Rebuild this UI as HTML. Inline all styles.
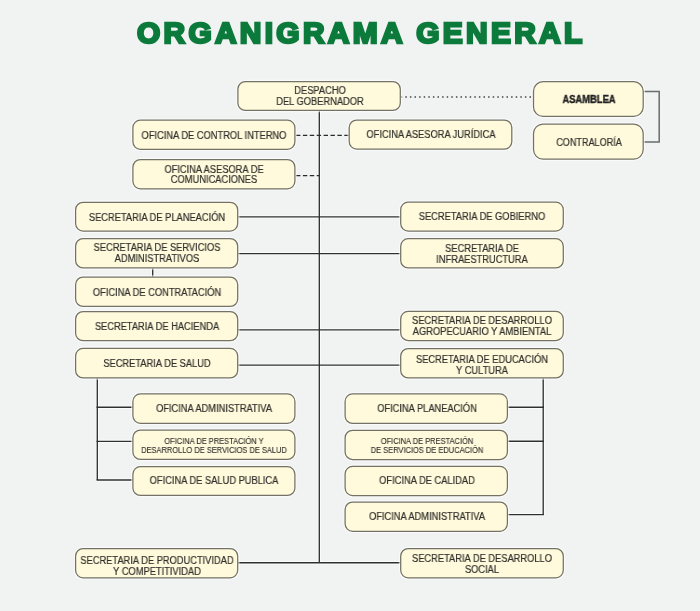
<!DOCTYPE html>
<html><head><meta charset="utf-8"><style>
html,body{margin:0;padding:0}
body{width:700px;height:611px;background:#f1f2f2;position:relative;overflow:hidden;font-family:"Liberation Sans",sans-serif}
.t{position:absolute;left:137.3px;top:18.4px;color:#0b7a3b;font-weight:700;font-size:29.9px;line-height:30px;letter-spacing:3.3px;-webkit-text-stroke:2.5px #0b7a3b;transform:scaleX(1.0);transform-origin:0 0;white-space:nowrap;will-change:transform}
svg{position:absolute;left:0;top:0}
.tx{position:absolute;width:300px;text-align:center;line-height:20px;white-space:nowrap;color:#2f2e2a;-webkit-text-stroke:0.2px #2f2e2a;transform-origin:50% 0;will-change:transform}
.tx.n{font-size:10.0px;transform:scaleX(0.93);font-weight:400}.tx.s{font-size:8.4px;transform:scaleX(0.893);font-weight:400}.tx.k{font-size:10.0px;transform:scaleX(0.94);font-weight:700}.tx.c{font-size:10.0px;transform:scaleX(0.907);font-weight:400}
.tx.k{color:#222;-webkit-text-stroke:0.4px #222}
.tx.s{-webkit-text-stroke:0.12px #2f2e2a}
</style></head><body>
<div class="t">ORGANIGRAMA GENERAL</div>
<svg width="700" height="611"><g stroke="#fff" stroke-opacity="0.7" stroke-width="3.4" fill="none"><line x1="319.3" y1="110.4" x2="319.3" y2="563.0"/><line x1="237.7" y1="216.9" x2="400.7" y2="216.9"/><line x1="237.7" y1="253.6" x2="400.7" y2="253.6"/><line x1="237.7" y1="329.9" x2="400.7" y2="329.9"/><line x1="237.7" y1="365.1" x2="400.7" y2="365.1"/><line x1="237.7" y1="562.7" x2="400.7" y2="562.7"/><line x1="152.7" y1="267.9" x2="152.7" y2="277.1"/><line x1="97.3" y1="377.9" x2="97.3" y2="480.0"/><line x1="96.55" y1="407.2" x2="132.9" y2="407.2"/><line x1="96.55" y1="441.3" x2="132.9" y2="441.3"/><line x1="96.55" y1="480.0" x2="132.9" y2="480.0"/><line x1="543.2" y1="377.9" x2="543.2" y2="514.6"/><line x1="507.4" y1="407.2" x2="543.95" y2="407.2"/><line x1="507.4" y1="441.2" x2="543.95" y2="441.2"/><line x1="507.4" y1="514.6" x2="543.95" y2="514.6"/></g><g stroke="#2e3030" stroke-width="1.35" fill="none"><line x1="319.3" y1="110.4" x2="319.3" y2="563.0"/><line x1="237.7" y1="216.9" x2="400.7" y2="216.9"/><line x1="237.7" y1="253.6" x2="400.7" y2="253.6"/><line x1="237.7" y1="329.9" x2="400.7" y2="329.9"/><line x1="237.7" y1="365.1" x2="400.7" y2="365.1"/><line x1="237.7" y1="562.7" x2="400.7" y2="562.7"/><line x1="152.7" y1="267.9" x2="152.7" y2="277.1"/><line x1="97.3" y1="377.9" x2="97.3" y2="480.0"/><line x1="96.55" y1="407.2" x2="132.9" y2="407.2"/><line x1="96.55" y1="441.3" x2="132.9" y2="441.3"/><line x1="96.55" y1="480.0" x2="132.9" y2="480.0"/><line x1="543.2" y1="377.9" x2="543.2" y2="514.6"/><line x1="507.4" y1="407.2" x2="543.95" y2="407.2"/><line x1="507.4" y1="441.2" x2="543.95" y2="441.2"/><line x1="507.4" y1="514.6" x2="543.95" y2="514.6"/></g><path d="M294.9 135.3H349.2M294.9 175.6H319.3" stroke="#2a2a2a" stroke-width="1.25" stroke-dasharray="4.4 2.5" stroke-dashoffset="-1.1" fill="none"/><path d="M400.7 96.9H533" stroke="#444" stroke-width="1.5" stroke-dasharray="1.5 3.1" fill="none"/><path d="M643.2 91.6H659.2V141.9H643.2" stroke="#6a6d6d" stroke-width="1.5" fill="none"/><g fill="none" stroke="#fff" stroke-opacity="0.6" stroke-width="3.6"><rect x="237.90" y="81.50" width="162.40" height="28.90" rx="7.5" ry="7.5"/><rect x="132.90" y="120.20" width="162.00" height="29.10" rx="7.5" ry="7.5"/><rect x="349.20" y="120.00" width="162.60" height="29.10" rx="7.5" ry="7.5"/><rect x="132.90" y="159.50" width="162.00" height="29.30" rx="7.5" ry="7.5"/><rect x="533.50" y="81.70" width="109.70" height="34.70" rx="9.5" ry="9.5"/><rect x="533.50" y="124.10" width="109.70" height="35.00" rx="9.5" ry="9.5"/><rect x="75.60" y="202.30" width="162.10" height="28.80" rx="7.5" ry="7.5"/><rect x="400.70" y="202.20" width="162.60" height="28.90" rx="7.5" ry="7.5"/><rect x="75.60" y="238.60" width="162.10" height="29.30" rx="7.5" ry="7.5"/><rect x="400.70" y="238.70" width="162.60" height="29.20" rx="7.5" ry="7.5"/><rect x="75.60" y="277.10" width="162.10" height="29.30" rx="7.5" ry="7.5"/><rect x="75.60" y="311.50" width="162.10" height="29.20" rx="7.5" ry="7.5"/><rect x="400.70" y="311.40" width="162.60" height="29.10" rx="7.5" ry="7.5"/><rect x="75.60" y="348.40" width="162.10" height="29.50" rx="7.5" ry="7.5"/><rect x="400.70" y="348.60" width="162.60" height="29.30" rx="7.5" ry="7.5"/><rect x="132.90" y="393.90" width="162.00" height="29.40" rx="7.5" ry="7.5"/><rect x="132.90" y="430.10" width="162.00" height="29.30" rx="7.5" ry="7.5"/><rect x="132.90" y="466.70" width="162.00" height="28.70" rx="7.5" ry="7.5"/><rect x="345.10" y="393.90" width="162.30" height="29.50" rx="7.5" ry="7.5"/><rect x="345.10" y="430.30" width="162.30" height="29.20" rx="7.5" ry="7.5"/><rect x="345.10" y="466.40" width="162.30" height="29.20" rx="7.5" ry="7.5"/><rect x="345.10" y="502.10" width="162.30" height="29.20" rx="7.5" ry="7.5"/><rect x="75.60" y="548.60" width="162.10" height="29.20" rx="7.5" ry="7.5"/><rect x="400.70" y="548.60" width="162.60" height="29.20" rx="7.5" ry="7.5"/></g><g fill="#fffadc" stroke="#737265" stroke-width="1.25"><rect x="237.90" y="81.50" width="162.40" height="28.90" rx="7.5" ry="7.5"/><rect x="132.90" y="120.20" width="162.00" height="29.10" rx="7.5" ry="7.5"/><rect x="349.20" y="120.00" width="162.60" height="29.10" rx="7.5" ry="7.5"/><rect x="132.90" y="159.50" width="162.00" height="29.30" rx="7.5" ry="7.5"/><rect x="533.50" y="81.70" width="109.70" height="34.70" rx="9.5" ry="9.5"/><rect x="533.50" y="124.10" width="109.70" height="35.00" rx="9.5" ry="9.5"/><rect x="75.60" y="202.30" width="162.10" height="28.80" rx="7.5" ry="7.5"/><rect x="400.70" y="202.20" width="162.60" height="28.90" rx="7.5" ry="7.5"/><rect x="75.60" y="238.60" width="162.10" height="29.30" rx="7.5" ry="7.5"/><rect x="400.70" y="238.70" width="162.60" height="29.20" rx="7.5" ry="7.5"/><rect x="75.60" y="277.10" width="162.10" height="29.30" rx="7.5" ry="7.5"/><rect x="75.60" y="311.50" width="162.10" height="29.20" rx="7.5" ry="7.5"/><rect x="400.70" y="311.40" width="162.60" height="29.10" rx="7.5" ry="7.5"/><rect x="75.60" y="348.40" width="162.10" height="29.50" rx="7.5" ry="7.5"/><rect x="400.70" y="348.60" width="162.60" height="29.30" rx="7.5" ry="7.5"/><rect x="132.90" y="393.90" width="162.00" height="29.40" rx="7.5" ry="7.5"/><rect x="132.90" y="430.10" width="162.00" height="29.30" rx="7.5" ry="7.5"/><rect x="132.90" y="466.70" width="162.00" height="28.70" rx="7.5" ry="7.5"/><rect x="345.10" y="393.90" width="162.30" height="29.50" rx="7.5" ry="7.5"/><rect x="345.10" y="430.30" width="162.30" height="29.20" rx="7.5" ry="7.5"/><rect x="345.10" y="466.40" width="162.30" height="29.20" rx="7.5" ry="7.5"/><rect x="345.10" y="502.10" width="162.30" height="29.20" rx="7.5" ry="7.5"/><rect x="75.60" y="548.60" width="162.10" height="29.20" rx="7.5" ry="7.5"/><rect x="400.70" y="548.60" width="162.60" height="29.20" rx="7.5" ry="7.5"/></g></svg>
<div class="tx n" style="left:169.50px;top:81.00px">DESPACHO</div><div class="tx n" style="left:169.50px;top:92.00px">DEL GOBERNADOR</div><div class="tx n" style="left:64.30px;top:126.00px">OFICINA DE CONTROL INTERNO</div><div class="tx n" style="left:280.90px;top:125.00px">OFICINA ASESORA JURÍDICA</div><div class="tx n" style="left:64.30px;top:160.00px">OFICINA ASESORA DE</div><div class="tx n" style="left:64.30px;top:170.00px">COMUNICACIONES</div><div class="tx k" style="left:438.75px;top:90.00px">ASAMBLEA</div><div class="tx c" style="left:438.75px;top:133.00px">CONTRALORÍA</div><div class="tx n" style="left:7.05px;top:208.00px">SECRETARIA DE PLANEACIÓN</div><div class="tx n" style="left:332.40px;top:207.00px">SECRETARIA DE GOBIERNO</div><div class="tx n" style="left:7.05px;top:238.00px">SECRETARIA DE SERVICIOS</div><div class="tx n" style="left:7.05px;top:249.00px">ADMINISTRATIVOS</div><div class="tx n" style="left:332.40px;top:239.00px">SECRETARIA DE</div><div class="tx n" style="left:332.40px;top:250.00px">INFRAESTRUCTURA</div><div class="tx n" style="left:7.05px;top:283.00px">OFICINA DE CONTRATACIÓN</div><div class="tx n" style="left:7.05px;top:317.00px">SECRETARIA DE HACIENDA</div><div class="tx n" style="left:332.40px;top:311.00px">SECRETARIA DE DESARROLLO</div><div class="tx n" style="left:332.40px;top:322.00px">AGROPECUARIO Y AMBIENTAL</div><div class="tx n" style="left:7.05px;top:354.00px">SECRETARIA DE SALUD</div><div class="tx n" style="left:332.40px;top:350.00px">SECRETARIA DE EDUCACIÓN</div><div class="tx n" style="left:332.40px;top:361.00px">Y CULTURA</div><div class="tx n" style="left:64.30px;top:399.00px">OFICINA ADMINISTRATIVA</div><div class="tx s" style="left:64.30px;top:431.00px">OFICINA DE PRESTACIÓN Y</div><div class="tx s" style="left:64.30px;top:440.00px">DESARROLLO DE SERVICIOS DE SALUD</div><div class="tx n" style="left:64.30px;top:471.00px">OFICINA DE SALUD PUBLICA</div><div class="tx n" style="left:276.65px;top:399.00px">OFICINA PLANEACIÓN</div><div class="tx s" style="left:276.65px;top:431.00px">OFICINA DE PRESTACIÓN</div><div class="tx s" style="left:276.65px;top:440.00px">DE SERVICIOS DE EDUCACIÓN</div><div class="tx n" style="left:276.65px;top:471.00px">OFICINA DE CALIDAD</div><div class="tx n" style="left:276.65px;top:507.00px">OFICINA ADMINISTRATIVA</div><div class="tx n" style="left:7.05px;top:551.00px">SECRETARIA DE PRODUCTIVIDAD</div><div class="tx n" style="left:7.05px;top:562.00px">Y COMPETITIVIDAD</div><div class="tx n" style="left:332.40px;top:549.00px">SECRETARIA DE DESARROLLO</div><div class="tx n" style="left:332.40px;top:560.00px">SOCIAL</div>
</body></html>
